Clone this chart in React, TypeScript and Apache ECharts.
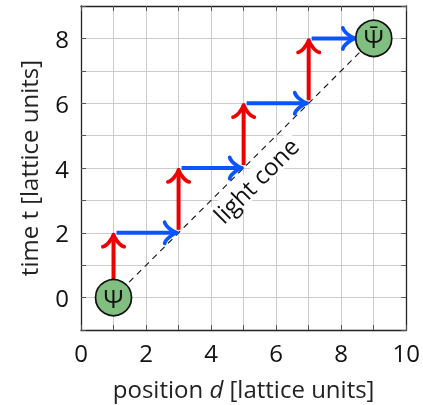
import React, { useEffect, useRef } from 'react';
import * as echarts from 'echarts';

// ---- data ----
const xTickLabels = [0, 2, 4, 6, 8, 10];
const yTickLabels = [0, 2, 4, 6, 8];
const particleX = [1, 9];
const particleY = [0, 8];
const particleLabels = ['Ψ', 'Ψ̄'];
const lightConeLine = [[1, 0], [9, 8]];
const redSteps = [[1, 0, 1, 2], [3, 2, 3, 4], [5, 4, 5, 6], [7, 6, 7, 8]];
const blueSteps = [[1, 2, 3, 2], [3, 4, 5, 4], [5, 6, 7, 6], [7, 8, 9, 8]];
const coneLabel = 'light cone';
const xName = 'position';
const xNameItalic = 'd';
const xNameUnit = '[lattice units]';
const yName = 'time t [lattice units]';

const FONT = 'Open Sans';
const FS = 24;
const RED = '#ee0000';
const BLUE = '#0a55ff';
const CIRCLE = 36;

const isParticle = (x: number, y: number) =>
  particleX.some((px, i) => px === x && particleY[i] === y);

const makeArrow = (color: string) => (params: any, api: any) => {
  const x1 = api.value(0), y1 = api.value(1), x2 = api.value(2), y2 = api.value(3);
  const p1 = api.coord([x1, y1]);
  const p2 = api.coord([x2, y2]);
  const dx = p2[0] - p1[0], dy = p2[1] - p1[1];
  const len = Math.hypot(dx, dy);
  const ux = dx / len, uy = dy / len;
  const nx = -uy, ny = ux;
  const s0 = 3;
  const s1 = isParticle(x2, y2) ? CIRCLE / 2 + 1 : 2;
  const sx = p1[0] + ux * s0, sy = p1[1] + uy * s0;
  const ex = p2[0] - ux * s1, ey = p2[1] - uy * s1;
  const l = 5.3;
  const pt = (u: number, v: number) => [ex + ux * u + nx * v, ey + uy * u + ny * v];
  const arm = (sg: number) => {
    const a = pt(-2.25 * l, sg * 2 * l);
    const c1 = pt(-2.125 * l, sg * 1.25 * l);
    const c2 = pt(-0.75 * l, sg * 0.25 * l);
    return {
      type: 'bezierCurve',
      shape: { x1: a[0], y1: a[1], cpx1: c1[0], cpy1: c1[1], cpx2: c2[0], cpy2: c2[1], x2: ex, y2: ey },
      style: { stroke: color, fill: null, lineWidth: 3.8, lineCap: 'round' },
    };
  };
  const se = pt(-1, 0);
  return {
    type: 'group',
    children: [
      { type: 'line', shape: { x1: sx, y1: sy, x2: se[0], y2: se[1] }, style: { stroke: color, lineWidth: 4 } },
      arm(1),
      arm(-1),
    ],
  };
};

export default function App() {
  const ref = useRef<HTMLDivElement>(null);
  useEffect(() => {
    if (!ref.current) return;
    const chart = echarts.init(ref.current, undefined, { renderer: 'svg' });
    const axisCommon = {
      type: 'value' as const,
      interval: 1,
      axisLine: { show: true, onZero: false, lineStyle: { color: '#222', width: 1.3 } },
      axisTick: { show: true, inside: true, length: 5, lineStyle: { color: '#555', width: 1 } },
    };
    const mid = [
      (lightConeLine[0][0] + lightConeLine[1][0]) / 2,
      (lightConeLine[0][1] + lightConeLine[1][1]) / 2,
    ];
    chart.setOption({
      animation: false,
      textStyle: { fontFamily: FONT },
      grid: { left: 81, top: 6, right: 14, bottom: 73, containLabel: false },
      xAxis: [
        {
          ...axisCommon,
          min: 0,
          max: 10,
          position: 'bottom',
          splitLine: { show: true, lineStyle: { color: '#cccccc', width: 1 } },
          axisLabel: {
            fontSize: FS,
            color: '#111',
            margin: 10,
            fontFamily: FONT,
            formatter: (v: number) => (xTickLabels.includes(v) ? String(v) : ''),
          },
          name: `${xName} {i|${xNameItalic}} ${xNameUnit}`,
          nameLocation: 'middle',
          nameGap: 46,
          nameTextStyle: {
            fontSize: FS,
            color: '#222',
            fontFamily: FONT,
            rich: { i: { fontSize: FS, fontStyle: 'italic', fontFamily: FONT, color: '#222' } },
          },
        },
        {
          ...axisCommon,
          min: 0,
          max: 10,
          position: 'top',
          splitLine: { show: false },
          axisLabel: { show: false },
        },
      ],
      yAxis: [
        {
          ...axisCommon,
          min: -1,
          max: 9,
          position: 'left',
          splitLine: { show: true, lineStyle: { color: '#cccccc', width: 1 } },
          axisLabel: {
            fontSize: FS,
            color: '#111',
            margin: 12,
            fontFamily: FONT,
            formatter: (v: number) => (yTickLabels.includes(v) ? String(v) : ''),
          },
          name: yName,
          nameLocation: 'middle',
          nameGap: 41,
          nameTextStyle: { fontSize: FS, color: '#222', fontFamily: FONT },
        },
        {
          ...axisCommon,
          min: -1,
          max: 9,
          position: 'right',
          splitLine: { show: false },
          axisLabel: { show: false },
        },
      ],
      series: [
        {
          type: 'line',
          data: lightConeLine,
          symbol: 'none',
          z: 2,
          lineStyle: { color: '#111', width: 1.1, type: [6, 5] },
        },
        {
          type: 'custom',
          data: [mid],
          z: 3,
          renderItem: (params: any, api: any) => {
            const p = api.coord([api.value(0), api.value(1)]);
            return {
              type: 'text',
              x: p[0] + 12,
              y: p[1] + 12,
              rotation: Math.PI / 4,
              style: {
                text: coneLabel,
                fontSize: FS,
                fontFamily: FONT,
                fill: '#111',
                backgroundColor: '#fff',
                padding: [0, 3],
                align: 'center',
                verticalAlign: 'middle',
              },
            };
          },
        },
        {
          type: 'custom',
          data: redSteps,
          z: 4,
          encode: { x: [0, 2], y: [1, 3] },
          renderItem: makeArrow(RED),
        },
        {
          type: 'custom',
          data: blueSteps,
          z: 4,
          encode: { x: [0, 2], y: [1, 3] },
          renderItem: makeArrow(BLUE),
        },
        {
          type: 'scatter',
          z: 6,
          symbolSize: CIRCLE,
          data: particleX.map((x, i) => ({ value: [x, particleY[i]], name: particleLabels[i] })),
          itemStyle: { color: '#80bf80', borderColor: '#111', borderWidth: 1.7, opacity: 1 },
          label: {
            show: true,
            position: 'inside',
            formatter: (p: any) => p.name,
            fontSize: 25,
            fontFamily: FONT,
            color: '#111',
          },
        },
      ],
    });
    return () => chart.dispose();
  }, []);
  return <div ref={ref} style={{ position: 'fixed', left: 0, top: 0, width: 423, height: 405 }} />;
}
